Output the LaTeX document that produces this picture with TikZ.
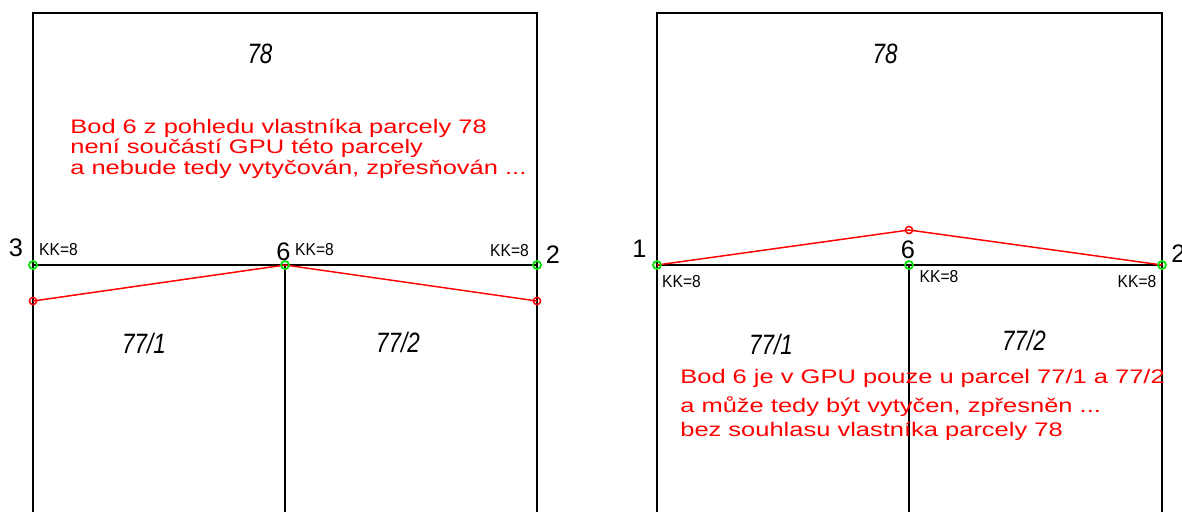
\documentclass[tikz,border=0pt]{standalone}
\usepackage{fontspec}
\setmainfont{Liberation Sans}
\definecolor{cadgreen}{RGB}{0,225,0}
\definecolor{cadred}{RGB}{255,0,0}
\begin{document}
\begin{tikzpicture}[x=0.75pt,y=-0.75pt,
  bline/.style={line width=1.1pt,black},
  rline/.style={line width=1.1pt,cadred},
  gpt/.style={circle,draw=cadgreen,line width=1.3pt,inner sep=0pt,minimum size=6pt},
  rpt/.style={circle,draw=cadred,line width=1.1pt,inner sep=0pt,minimum size=5.4pt},
  numlbl/.style={inner sep=0pt,font=\fontsize{19}{19}\selectfont},
  kklbl/.style={inner sep=0pt,font=\fontsize{13}{13}\selectfont,xscale=0.9},
  parlbl/.style={inner sep=0pt,font=\fontsize{21}{21}\selectfont\itshape,xscale=0.8},
  note/.style={inner sep=0pt,anchor=base west,text=cadred,font=\fontsize{14.7}{14.7}\selectfont,xscale=1.3}]
\useasboundingbox (0,0) rectangle (1182,512);
% ---------- left panel ----------
\coordinate (LtL) at (33,13);
\coordinate (LtR) at (537,13);
\coordinate (LbL) at (33,512);
\coordinate (LbR) at (537,512);
\coordinate (Lb6) at (285,512);
\coordinate (P3) at (33,265);
\coordinate (P6) at (285,265);
\coordinate (P2) at (537,265);
\coordinate (R3) at (33,301);
\coordinate (R2) at (537,301);
\draw[bline] (LbL) -- (LtL) -- (LtR) -- (LbR);
\draw[bline] (P3) -- (P2);
\draw[bline] (P6) -- (Lb6);
\draw[rline] (R3) -- (P6) -- (R2);
\node[gpt] (g3) at (P3) {};
\node[gpt] (g6) at (P6) {};
\node[gpt] (g2) at (P2) {};
\node[rpt] (r3) at (R3) {};
\node[rpt] (r2) at (R2) {};
\node[numlbl] (t3) at (16,248) {3};
\node[numlbl] (t6) at (283.5,252) {6};
\node[numlbl] (t2) at (553,255) {2};
\node[kklbl] (k3) at (58.5,250) {KK=8};
\node[kklbl] (k6) at (314.5,250) {KK=8};
\node[kklbl] (k2) at (509.5,250.5) {KK=8};
\node[parlbl] (a78) at (260,54) {78};
\node[parlbl] (a771) at (144,343) {77/1};
\node[parlbl] (a772) at (398,342) {77/2};
\node[note] (n1) at (70,133) {Bod 6 z pohledu vlastníka parcely 78};
\node[note] (n2) at (70,153) {není součástí GPU této parcely};
\node[note] (n3) at (70,174) {a nebude tedy vytyčován, zpřesňován ...};
% ---------- right panel ----------
\coordinate (RtL) at (657,13);
\coordinate (RtR) at (1162,13);
\coordinate (RbL) at (657,512);
\coordinate (RbR) at (1162,512);
\coordinate (Rb6) at (909,512);
\coordinate (Q1) at (657,265);
\coordinate (Q6) at (909,265);
\coordinate (Q2) at (1162,265);
\coordinate (S6) at (909,230);
\draw[bline] (RbL) -- (RtL) -- (RtR) -- (RbR);
\draw[bline] (Q1) -- (Q2);
\draw[bline] (Q6) -- (Rb6);
\draw[rline] (Q1) -- (S6) -- (Q2);
\node[gpt] (h1) at (Q1) {};
\node[gpt] (h6) at (Q6) {};
\node[gpt] (h2) at (Q2) {};
\node[rpt] (s6) at (S6) {};
\node[numlbl] (u1) at (639.5,249) {1};
\node[numlbl] (u6) at (908,250) {6};
\node[numlbl,anchor=west] (u2) at (1171,254) {2};
\node[kklbl] (m1) at (681.5,282) {KK=8};
\node[kklbl] (m6) at (939,277) {KK=8};
\node[kklbl] (m2) at (1137,282) {KK=8};
\node[parlbl] (b78) at (885,54) {78};
\node[parlbl] (b771) at (771,344) {77/1};
\node[parlbl] (b772) at (1024,340) {77/2};
\node[note] (o1) at (680,383) {Bod 6 je v GPU pouze u parcel 77/1 a 77/2};
\node[note] (o2) at (680,412) {a může tedy být vytyčen, zpřesněn ...};
\node[note] (o3) at (680,436) {bez souhlasu vlastníka parcely 78};
\end{tikzpicture}
\end{document}
